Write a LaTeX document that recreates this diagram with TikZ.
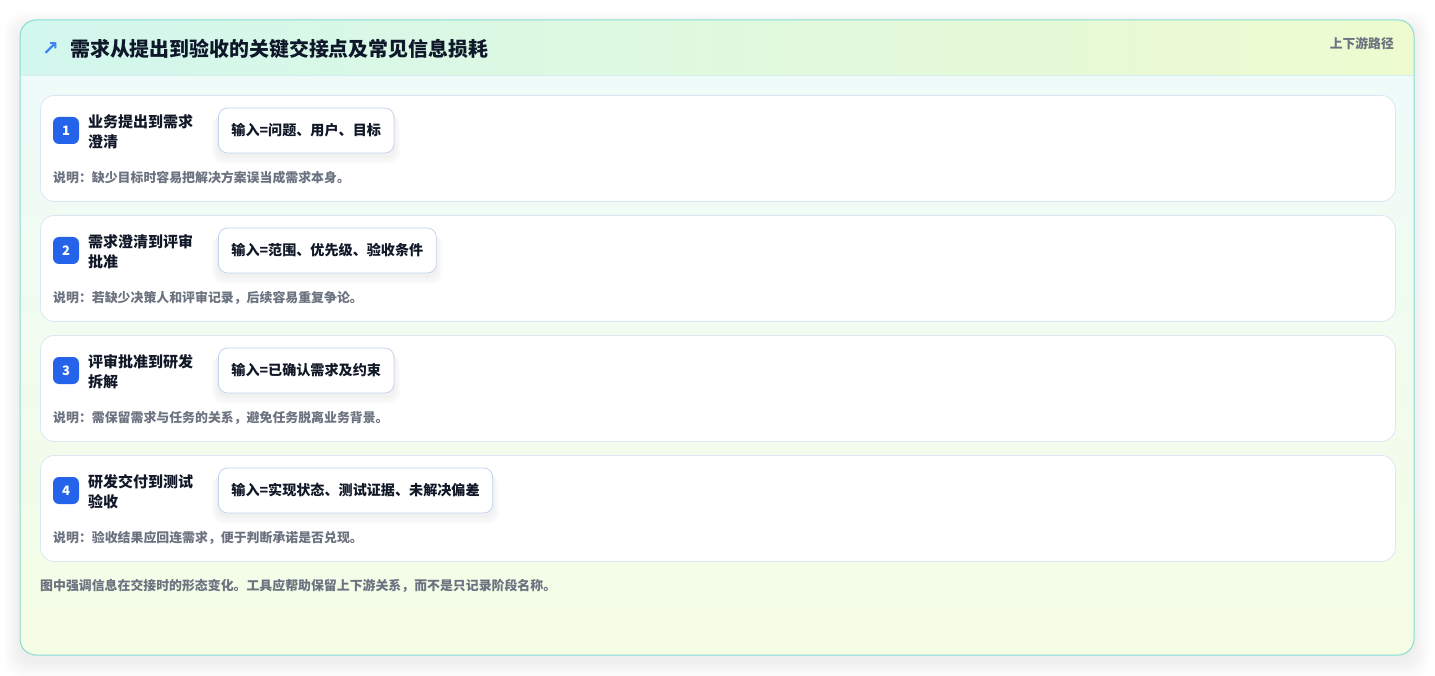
\documentclass[tikz,border=0pt]{standalone}
\usepackage{fontspec}
\setmainfont{Noto Sans CJK SC}
\newfontfamily\symfont{DejaVu Sans}
\definecolor{headL}{HTML}{D2F7EE}
\definecolor{headR}{HTML}{EEFBCF}
\definecolor{bodyT}{HTML}{EFFBF9}
\definecolor{bodyB}{HTML}{F5FDE5}
\definecolor{cardborder}{HTML}{86DDD2}
\definecolor{headline}{HTML}{D6EEEE}
\definecolor{stageborder}{HTML}{DBE8F3}
\definecolor{inputborder}{HTML}{C3D2EE}
\definecolor{badgeblue}{HTML}{2563EB}
\definecolor{darktext}{HTML}{111827}
\definecolor{titletext}{HTML}{0F172A}
\definecolor{graytext}{HTML}{6B7280}
\definecolor{iconblue}{HTML}{3B82F6}
\pgfdeclarelayer{cards}
\pgfdeclarelayer{shadowlayer}
\pgfsetlayers{cards,shadowlayer,main}
\tikzset{
  stagecard/.style={draw=stageborder, line width=0.8pt, fill=white, rounded corners=14pt,
    minimum width=1355pt, minimum height=106pt, anchor=north west, inner sep=0pt},
  badge/.style={fill=badgeblue, rounded corners=6pt, minimum width=26pt, minimum height=27pt,
    inner sep=0pt, text=white, font=\fontsize{13}{13}\selectfont\bfseries},
  stagetitle/.style={anchor=west, inner sep=0pt, align=left, text=darktext,
    font=\fontsize{15}{20}\selectfont\bfseries},
  inputbox/.style={draw=inputborder, line width=0.8pt, fill=white, rounded corners=9pt,
    minimum height=45pt, inner xsep=13pt, inner ysep=0pt, anchor=west, text=darktext,
    font=\fontsize{14.1}{14}\selectfont\bfseries},
  notetext/.style={anchor=west, inner sep=0pt, text=graytext, font=\fontsize{12.9}{13}\selectfont\bfseries},
}
\begin{document}
\begin{tikzpicture}[x=1pt,y=-1pt]
\useasboundingbox (0,0) rectangle (1435,676);
\begin{pgfonlayer}{cards}
% outer shadow
\foreach \i in {1,...,16}
  \fill[black, opacity=0.005, rounded corners=18pt] (20-\i,20-\i+7) rectangle (1414+\i,655+\i+7);
% card background
\begin{scope}
  \clip[rounded corners=16pt] (20,20) rectangle (1414,655);
  \shade[top color=bodyT, bottom color=bodyB] (20,75) rectangle (1414,655);
  \shade[left color=headL, right color=headR] (20,20) rectangle (1414,75);
\end{scope}
\draw[headline, line width=0.8pt] (20,75) -- (1414,75);
\draw[cardborder, line width=1pt, rounded corners=16pt] (20,20) rectangle (1414,655);
\end{pgfonlayer}
% header
\node[anchor=center, inner sep=0pt, text=iconblue, font=\symfont\fontsize{20}{20}\selectfont\bfseries] (icon) at (50.5,49) {↗};
\node[anchor=west, inner sep=0pt, text=titletext, font=\fontsize{19.9}{20}\selectfont\bfseries] (title) at (70,49) {需求从提出到验收的关键交接点及常见信息损耗};
\node[anchor=east, inner sep=0pt, text=graytext, font=\fontsize{12.8}{13}\selectfont\bfseries] (tag) at (1394,44) {上下游路径};
% stages
\foreach \n/\ttl/\inp/\nt [count=\k from 0] in {
  1/{业务提出到需求\\澄清}/{输入=问题、用户、目标}/{说明：缺少目标时容易把解决方案误当成需求本身。},
  2/{需求澄清到评审\\批准}/{输入=范围、优先级、验收条件}/{说明：若缺少决策人和评审记录，后续容易重复争论。},
  3/{评审批准到研发\\拆解}/{输入=已确认需求及约束}/{说明：需保留需求与任务的关系，避免任务脱离业务背景。},
  4/{研发交付到测试\\验收}/{输入=实现状态、测试证据、未解决偏差}/{说明：验收结果应回连需求，便于判断承诺是否兑现。}}
{
  \pgfmathsetmacro{\yo}{95+120*\k}
  \begin{pgfonlayer}{cards}
  \node[stagecard] (card\n) at (40,\yo) {};
  \end{pgfonlayer}
  \node[badge] (badge\n) at (66,\yo+35.5) {\n};
  \node[stagetitle] (stitle\n) at (88,\yo+37) {\ttl};
  \node[inputbox] (input\n) at (218,\yo+35.5) {\inp};
  \begin{pgfonlayer}{shadowlayer}
  \foreach \s in {1,...,7}
    \fill[black, opacity=0.007, rounded corners=10pt]
      ([xshift=-\s*0.9pt, yshift=-\s*0.7pt-3pt]input\n.north west) rectangle ([xshift=\s*0.9pt, yshift=-\s*1.1pt-3pt]input\n.south east);
  \end{pgfonlayer}
  \node[notetext] (note\n) at (53,\yo+83) {\nt};
}
\node[notetext] (footer) at (40,586) {图中强调信息在交接时的形态变化。工具应帮助保留上下游关系，而不是只记录阶段名称。};
\end{tikzpicture}
\end{document}
